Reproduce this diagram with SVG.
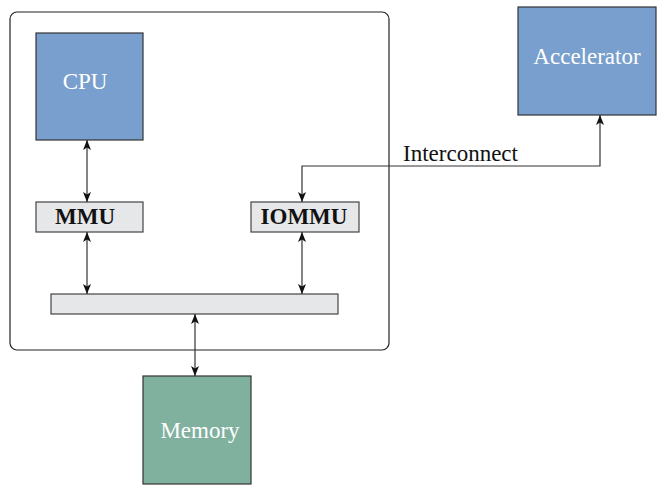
<svg xmlns="http://www.w3.org/2000/svg" width="668" height="492" viewBox="0 0 668 492">
<defs>
<marker id="ah" viewBox="0 0 10 10" refX="10" refY="5" markerWidth="10" markerHeight="10" markerUnits="userSpaceOnUse" orient="auto-start-reverse">
<path d="M0,1 L10,5 L0,9 L2.5,5 Z" fill="#111"/>
</marker>
</defs>
<style>
.blue{fill:#789fcd;stroke:#333;stroke-width:1.2}
.green{fill:#80b19f;stroke:#333;stroke-width:1.2}
.grey{fill:#e6e7e8;stroke:#444;stroke-width:1.2}
.wt{font-family:"Liberation Serif",serif;font-size:23px;fill:#fff;text-anchor:middle}
.bt{font-family:"Liberation Serif",serif;font-size:23px;font-weight:bold;fill:#111;text-anchor:middle}
.conn{fill:none;stroke:#333;stroke-width:1.2}
</style>
<rect x="10" y="12" width="379" height="338" rx="7" fill="none" stroke="#222" stroke-width="1.2"/>
<g id="cpu"><rect class="blue" x="36" y="33" width="107" height="107"/><text class="wt" x="85" y="89">CPU</text></g>
<g id="mmu"><rect class="grey" x="36" y="202" width="107" height="30"/><text class="bt" x="85" y="224">MMU</text></g>
<g id="iommu"><rect class="grey" x="251" y="202" width="108" height="30"/><text class="bt" x="304" y="224">IOMMU</text></g>
<g id="bus"><rect class="grey" x="51" y="294" width="287" height="20"/></g>
<g id="memory"><rect class="green" x="143" y="376" width="108" height="108"/><text class="wt" x="200" y="438">Memory</text></g>
<g id="accelerator"><rect class="blue" x="518" y="7" width="138" height="108"/><text class="wt" x="587" y="64">Accelerator</text></g>
<g id="connectors">
<line class="conn" x1="87" y1="140" x2="87" y2="202" marker-start="url(#ah)" marker-end="url(#ah)"/>
<line class="conn" x1="87" y1="232" x2="87" y2="294" marker-start="url(#ah)" marker-end="url(#ah)"/>
<line class="conn" x1="302" y1="232" x2="302" y2="294" marker-start="url(#ah)" marker-end="url(#ah)"/>
<line class="conn" x1="195" y1="314" x2="195" y2="376" marker-start="url(#ah)" marker-end="url(#ah)"/>
<path class="conn" d="M302,202 L302,166 L600,166 L600,115" marker-start="url(#ah)" marker-end="url(#ah)"/>
<text x="403" y="161" font-family="Liberation Serif, serif" font-size="23" fill="#111">Interconnect</text>
</g>
</svg>
